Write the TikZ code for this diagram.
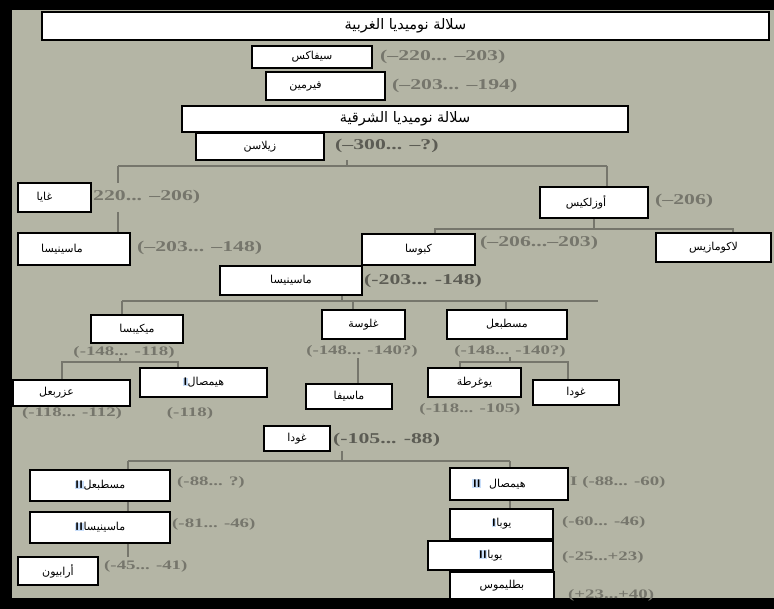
\documentclass[tikz,border=0pt]{standalone}
\usepackage{graphicx}
\usepackage{fontspec}
\setmainfont{Liberation Serif}
\newfontfamily\arabicfont[Script=Arabic]{DejaVu Sans}
\TeXXeTstate=1
\usetikzlibrary{positioning}
\definecolor{paper}{RGB}{180,181,165}
\definecolor{ink}{RGB}{118,118,108}
\definecolor{inkdark}{RGB}{92,92,84}
\definecolor{hilite}{RGB}{200,222,250}
\newcommand{\arname}[1]{\beginR#1\endR}
\newcommand{\romnum}[1]{{\setlength{\fboxsep}{0.6pt}\colorbox{hilite}{\sffamily\bfseries #1}}}
\newcommand{\wide}[1]{\scalebox{1.45}[1]{#1}}
\tikzset{
  namebox/.style={draw=black, fill=white, line width=1.3pt, inner sep=0pt,
    font=\arabicfont\fontsize{11}{12}\selectfont},
  titlebox/.style={namebox, font=\arabicfont\fontsize{14.5}{15}\selectfont},
  date/.style={text=ink, inner sep=0pt, font=\fontsize{15}{16}\selectfont\bfseries},
  smalldate/.style={date, font=\fontsize{13}{14}\selectfont\bfseries},
  darkdate/.style={date, text=inkdark},
  tree/.style={draw=ink, line width=1.4pt},
}

\begin{document}
\begin{tikzpicture}[x=1pt, y=-1pt]
\useasboundingbox (0,0) rectangle (774,609);
% scanned page with dark edges
\fill[black] (0,0) rectangle (774,609);
\fill[paper] (12,10) rectangle (774,598);

% tree joints of the printed chart
\coordinate (zil_stem) at (347,160);
\coordinate (zil_fork) at (347,166);
\coordinate (zil_left) at (118,166);
\coordinate (zil_right) at (607,166);
\coordinate (gaia_in) at (118,183);
\coordinate (gaia_out) at (118,212);
\coordinate (masl_in) at (118,233);
\coordinate (oez_in) at (607,187);
\coordinate (oez_stem) at (594,218);
\coordinate (oez_fork) at (594,229);
\coordinate (oez_left) at (435,229);
\coordinate (oez_right) at (733,229);
\coordinate (cap_in) at (435,234);
\coordinate (lac_in) at (733,233);
\coordinate (masc_stem) at (342,295);
\coordinate (masc_fork) at (342,301);
\coordinate (masc_left) at (122,301);
\coordinate (masc_right) at (598,301);
\coordinate (mic_in) at (122,315);
\coordinate (gul_top) at (353,301);
\coordinate (gul_in) at (353,310);
\coordinate (mast_top) at (506,301);
\coordinate (mast_in) at (506,310);
\coordinate (mic_stem) at (120,358);
\coordinate (mic_fork) at (120,362);
\coordinate (mic_left) at (62,362);
\coordinate (mic_right) at (178,362);
\coordinate (adh_in) at (62,380);
\coordinate (hie1_in) at (178,368);
\coordinate (gul_stem) at (358,358);
\coordinate (msv_in) at (358,384);
\coordinate (mast_stem) at (510,357);
\coordinate (mast_fork) at (510,362);
\coordinate (mast_left) at (460,362);
\coordinate (mast_right) at (568,362);
\coordinate (jug_in) at (460,368);
\coordinate (gda1_in) at (568,380);
\coordinate (gda2_stem) at (342,451);
\coordinate (gda2_fork) at (342,461);
\coordinate (gda2_left) at (128,461);
\coordinate (gda2_right) at (510,461);
\coordinate (left_chain) at (128,557);
\coordinate (right_chain) at (510,574);

% lines
\draw[tree] (zil_stem) -- (zil_fork);
\draw[tree] (zil_left) -- (zil_right);
\draw[tree] (zil_left) -- (gaia_in);
\draw[tree] (gaia_out) -- (masl_in);
\draw[tree] (zil_right) -- (oez_in);
\draw[tree] (oez_stem) -- (oez_fork);
\draw[tree] (cap_in) -- (oez_left) -- (oez_right) -- (lac_in);
\draw[tree] (masc_stem) -- (masc_fork);
\draw[tree] (masc_left) -- (masc_right);
\draw[tree] (masc_left) -- (mic_in);
\draw[tree] (gul_top) -- (gul_in);
\draw[tree] (mast_top) -- (mast_in);
\draw[tree] (mic_stem) -- (mic_fork);
\draw[tree] (adh_in) -- (mic_left) -- (mic_right) -- (hie1_in);
\draw[tree] (gul_stem) -- (msv_in);
\draw[tree] (mast_stem) -- (mast_fork);
\draw[tree] (jug_in) -- (mast_left) -- (mast_right) -- (gda1_in);
\draw[tree] (gda2_stem) -- (gda2_fork);
\draw[tree] (gda2_left) -- (gda2_right);
\draw[tree] (gda2_left) -- (left_chain);
\draw[tree] (gda2_right) -- (right_chain);

% printed dates
\node[date, anchor=west] (sifax_date) at (380,57) {\wide{(--220... --203)}};
\node[date, anchor=west] (firmin_date) at (392,86) {\wide{(--203... --194)}};
\node[darkdate, anchor=west] (zil_date) at (335,146) {\wide{(--300... --?)}};
\node[date, anchor=west] (gaia_date) at (93,197) {\wide{220... --206)}};
\node[date, anchor=west] (masl_date) at (137,248) {\wide{(--203... --148)}};
\node[date, anchor=west] (oez_date) at (655,201) {\wide{(--206)}};
\node[date, anchor=west] (cap_date) at (480,243) {\wide{(--206...--203)}};
\node[darkdate, anchor=west] (masc_date) at (364,281) {\wide{(-203... -148)}};
\node[smalldate] (mic_date) at (124,352) {\wide{(-148... -118)}};
\node[smalldate] (gul_date) at (362,351) {\wide{(-148... -140?)}};
\node[smalldate] (mast_date) at (510,351) {\wide{(-148... -140?)}};
\node[smalldate] (adh_date) at (72,413) {\wide{(-118... -112)}};
\node[smalldate] (hie1_date) at (190,413) {\wide{(-118)}};
\node[smalldate] (jug_date) at (470,409) {\wide{(-118... -105)}};
\node[darkdate, anchor=west] (gda2_date) at (333,440) {\wide{(-105... -88)}};
\node[smalldate, anchor=west] (mast2_date) at (177,482) {\wide{(-88... ?)}};
\node[smalldate, anchor=west] (hie2_date) at (570,482) {\wide{I (-88... -60)}};
\node[smalldate, anchor=west] (mas2_date) at (172,524) {\wide{(-81... -46)}};
\node[smalldate, anchor=west] (juba1_date) at (562,522) {\wide{(-60... -46)}};
\node[smalldate, anchor=west] (arab_date) at (104,566) {\wide{(-45... -41)}};
\node[smalldate, anchor=west] (juba2_date) at (562,557) {\wide{(-25...+23)}};
\node[smalldate, anchor=west] (ptol_date) at (568,595) {\wide{(+23...+40)}};

% name boxes
\node[titlebox, minimum width=727pt, minimum height=28pt] (west_title) at (405.5,26) {\arname{سلالة نوميديا الغربية}};
\node[namebox, minimum width=120pt, minimum height=22pt] (sifax) at (312,57) {\arname{سيفاكس}};
\node[namebox, minimum width=119pt, minimum height=28pt] (firmin) at (325.5,86) {\arname{فيرمين}\hspace*{40pt}};
\node[titlebox, minimum width=446pt, minimum height=26pt] (east_title) at (405,119) {\arname{سلالة نوميديا الشرقية}};
\node[namebox, minimum width=128pt, minimum height=27pt] (zilasan) at (260,146.5) {\arname{زيلاسن}};
\node[namebox, minimum width=73pt, minimum height=29pt] (gaia) at (54.5,197.5) {\arname{غايا}\hspace*{20pt}};
\node[namebox, minimum width=112pt, minimum height=32pt] (masinissa_l) at (74,249) {\arname{ماسينيسا}\hspace*{24pt}};
\node[namebox, minimum width=108pt, minimum height=31pt] (oezalces) at (594,202.5) {\arname{أوزلكيس}\hspace*{16pt}};
\node[namebox, minimum width=113pt, minimum height=31pt] (capussa) at (418.5,249.5) {\arname{كبوسا}};
\node[namebox, minimum width=115pt, minimum height=29pt] (lacumazes) at (713.5,247.5) {\arname{لاكومازيس}};
\node[namebox, minimum width=142pt, minimum height=29pt] (masinissa_c) at (291,280.5) {\arname{ماسينيسا}};
\node[namebox, minimum width=92pt, minimum height=28pt] (micipsa) at (137,329) {\arname{ميكيبسا}};
\node[namebox, minimum width=83pt, minimum height=29pt] (gulussa) at (363.5,324.5) {\arname{غلوسة}};
\node[namebox, minimum width=120pt, minimum height=29pt] (mastanabal) at (507,324.5) {\arname{مسطبعل}};
\node[namebox, minimum width=117pt, minimum height=26pt] (adherbal) at (71.5,393) {\arname{عزربعل}\hspace*{30pt}};
\node[namebox, minimum width=127pt, minimum height=29pt] (hiempsal_i) at (203.5,382.5) {\romnum{I}\arname{هيمصال}};
\node[namebox, minimum width=86pt, minimum height=25pt] (massiva) at (349,396.5) {\arname{ماسيفا}};
\node[namebox, minimum width=93pt, minimum height=29pt] (jugurtha) at (474.5,382.5) {\arname{يوغرطة}};
\node[namebox, minimum width=86pt, minimum height=25pt] (gauda_a) at (576,392.5) {\arname{غودا}};
\node[namebox, minimum width=66pt, minimum height=25pt] (gauda_b) at (297,438.5) {\arname{غودا}};
\node[namebox, minimum width=140pt, minimum height=31pt] (mastanabal_ii) at (100,485.5) {\romnum{II}\arname{مسطبعل}};
\node[namebox, minimum width=140pt, minimum height=31pt] (masinissa_ii) at (100,527.5) {\romnum{II}\arname{ماسينيسا}};
\node[namebox, minimum width=80pt, minimum height=28pt] (arabion) at (58,571) {\arname{أرابيون}};
\node[namebox, minimum width=118pt, minimum height=32pt] (hiempsal_ii) at (509,484) {\romnum{II}\hspace{8pt}\arname{هيمصال}\hspace*{20pt}};
\node[namebox, minimum width=103pt, minimum height=30pt] (juba_i) at (501.5,524) {\romnum{I}\arname{يوبا}};
\node[namebox, minimum width=125pt, minimum height=29pt] (juba_ii) at (490.5,555.5) {\romnum{II}\arname{يوبا}};
\node[namebox, minimum width=104pt, minimum height=27pt] (ptolemy) at (502,585.5) {\arname{بطليموس}};
\end{tikzpicture}
\end{document}
